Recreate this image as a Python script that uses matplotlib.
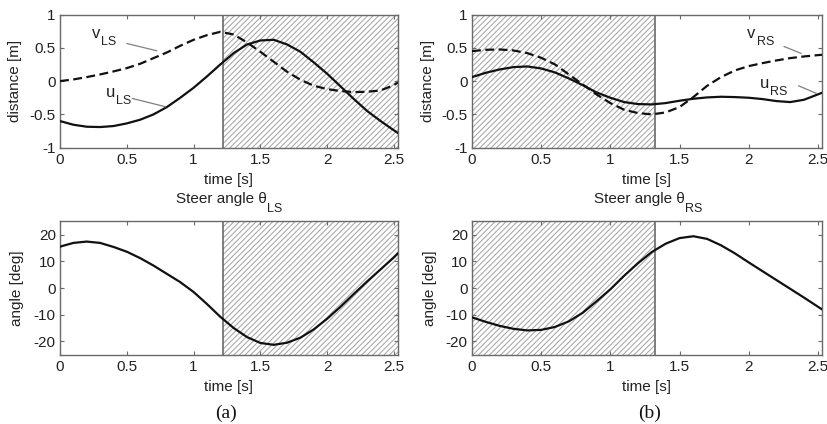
import numpy as np
import matplotlib
matplotlib.use("Agg")
import matplotlib.pyplot as plt
from matplotlib.transforms import IdentityTransform

# time samples (s)
t = [0.0, 0.1, 0.2, 0.3, 0.4, 0.5, 0.6, 0.7, 0.8, 0.9, 1.0, 1.1, 1.2,
     1.3, 1.4, 1.5, 1.6, 1.7, 1.8, 1.9, 2.0, 2.1, 2.2, 2.3, 2.4, 2.5, 2.53]

# (a) left side
v_ls = [0.0, 0.025, 0.06, 0.10, 0.145, 0.195, 0.26, 0.345, 0.43, 0.53, 0.62,
        0.69, 0.74, 0.70, 0.58, 0.44, 0.29, 0.14, 0.02, -0.07, -0.12, -0.15,
        -0.165, -0.16, -0.14, -0.06, -0.02]
u_ls = [-0.60, -0.655, -0.685, -0.69, -0.675, -0.635, -0.58, -0.50, -0.39,
        -0.25, -0.10, 0.07, 0.25, 0.42, 0.55, 0.61, 0.62, 0.55, 0.44, 0.28,
        0.11, -0.08, -0.27, -0.45, -0.60, -0.74, -0.78]
theta_ls = [15.5, 16.9, 17.4, 16.9, 15.4, 13.6, 11.2, 8.4, 5.3, 2.2, -1.5,
            -6.0, -10.8, -15.0, -18.4, -20.6, -21.3, -20.5, -18.6, -15.5,
            -11.5, -7.0, -2.2, 2.5, 7.0, 11.5, 13.0]
shade_ls = (1.22, 2.53)

# (b) right side
v_rs = [0.45, 0.47, 0.475, 0.46, 0.42, 0.35, 0.25, 0.10, -0.05, -0.20, -0.33,
        -0.43, -0.48, -0.50, -0.47, -0.39, -0.24, -0.07, 0.06, 0.16, 0.225,
        0.27, 0.31, 0.345, 0.37, 0.39, 0.395]
u_rs = [0.06, 0.125, 0.175, 0.21, 0.22, 0.19, 0.13, 0.04, -0.06, -0.17, -0.25,
        -0.315, -0.345, -0.35, -0.33, -0.295, -0.265, -0.245, -0.235, -0.24,
        -0.25, -0.27, -0.30, -0.315, -0.28, -0.20, -0.175]
theta_rs = [-11.0, -12.7, -14.2, -15.3, -15.9, -15.7, -14.6, -12.5, -9.3,
            -5.0, -0.5, 4.6, 9.3, 13.5, 16.6, 18.7, 19.4, 18.4, 16.0, 13.0,
            9.6, 6.3, 3.0, -0.3, -3.6, -7.0, -8.0]
shade_rs = (0.0, 1.32)

x_ticks = [0, 0.5, 1, 1.5, 2, 2.5]
x_ticklabels = ['0', '0.5', '1', '1.5', '2', '2.5']
d_ticks = [-1, -0.5, 0, 0.5, 1]
d_ticklabels = ['-1', '-0.5', '0', '0.5', '1']
a_ticks = [-20, -10, 0, 10, 20]
a_ticklabels = ['-20', '-10', '0', '10', '20']

plt.rcParams['font.family'] = ['Liberation Sans', 'DejaVu Sans']
plt.rcParams['hatch.linewidth'] = 0.8

W, H = 828, 424
fig = plt.figure(figsize=(W / 100, H / 100), dpi=100)
renderer = fig.canvas.get_renderer()


def px_axes(x0, x1, y0, y1):
    return fig.add_axes([x0 / W, 1 - y1 / H, (x1 - x0) / W, (y1 - y0) / H])


ax_tl = px_axes(60, 398, 14.5, 147.7)
ax_tr = px_axes(472, 822, 14.5, 147.7)
ax_bl = px_axes(60, 398, 221.3, 354.7)
ax_br = px_axes(472, 822, 221.3, 354.7)

frame = '#6a6a6a'
ink = '#111111'
txt = '#222222'


def style(ax, yt, ytl, ylim, ylabel, ylab_x):
    ax.set_xlim(0, 2.53)
    ax.set_ylim(*ylim)
    ax.set_xticks(x_ticks)
    ax.set_xticklabels(x_ticklabels)
    ax.set_yticks(yt)
    ax.set_yticklabels(ytl)
    ax.tick_params(direction='in', length=3, width=0.8, color=frame,
                   top=True, right=True, labelsize=11, labelcolor=txt)
    ax.tick_params(axis='x', pad=4)
    ax.tick_params(axis='y', pad=3)
    for s in ax.spines.values():
        s.set_color(frame)
        s.set_linewidth(1.0)
    ax.set_ylabel(ylabel, fontsize=11, color=txt)
    ax.yaxis.label.set_va('center')
    ax.yaxis.label.set_ha('center')
    ax.yaxis.set_label_coords(ylab_x, 0.5)
    ax.set_xlabel('time [s]', fontsize=11, color=txt)
    ax.xaxis.label.set_va('center')
    ax.xaxis.set_label_coords(0.5, -(180 - 147.7) / 133.2)


def shade(ax, span):
    ax.axvspan(span[0], span[1], facecolor='none', edgecolor='#ababab',
               hatch='//////', linewidth=0, zorder=1)
    for x in span:
        if 0 < x < 2.53:
            ax.axvline(x, color=frame, lw=1.2, zorder=2)


def add_sub(main, sub, size=8.5, drop=8):
    # put a lowered subscript right after a text drawn with va='baseline'
    bb = main.get_window_extent(renderer)
    bx, by = main.get_transform().transform(main.get_position())
    fig.text(bb.x1 + 1, by - drop, sub, fontsize=size, color=txt,
             ha='left', va='baseline', transform=IdentityTransform())


style(ax_tl, d_ticks, d_ticklabels, (-1, 1), 'distance [m]', -0.133)
style(ax_tr, d_ticks, d_ticklabels, (-1, 1), 'distance [m]', -0.126)
style(ax_bl, a_ticks, a_ticklabels, (-25, 25), 'angle [deg]', -0.127)
style(ax_br, a_ticks, a_ticklabels, (-25, 25), 'angle [deg]', -0.12)

shade(ax_tl, shade_ls)
shade(ax_bl, shade_ls)
shade(ax_tr, shade_rs)
shade(ax_br, shade_rs)

dash = (0, (4, 2))
ax_tl.plot(t, v_ls, color=ink, lw=1.6, linestyle=dash, zorder=3)
ax_tl.plot(t, u_ls, color=ink, lw=1.6, zorder=3)
ax_tr.plot(t, v_rs, color=ink, lw=1.6, linestyle=dash, zorder=3)
ax_tr.plot(t, u_rs, color=ink, lw=1.6, zorder=3)
ax_bl.plot(t, theta_ls, color=ink, lw=1.6, zorder=3)
ax_br.plot(t, theta_rs, color=ink, lw=1.6, zorder=3)

# curve labels with leader lines
lead = dict(arrowstyle='-', color='#808080', lw=0.9, shrinkA=0, shrinkB=0)
curve_labels = [
    (ax_tl, 0.24, 0.64, 'v', 'LS', (0.725, 0.455), (0.50, 0.565)),
    (ax_tl, 0.34, -0.235, 'u', 'LS', (0.79, -0.385), (0.54, -0.26)),
    (ax_tr, 1.99, 0.64, 'v', 'RS', (2.38, 0.415), (2.255, 0.52)),
    (ax_tr, 2.08, -0.10, 'u', 'RS', (2.49, -0.185), (2.36, -0.07)),
]
for ax, x, y, m, s, end, start in curve_labels:
    tm = ax.text(x, y, m, fontsize=12, color=txt, va='baseline')
    add_sub(tm, s, size=9, drop=7)
    ax.annotate('', xy=end, xytext=start, arrowprops=lead)

for cx, s in [(229, 'LS'), (647, 'RS')]:
    tm = fig.text((cx - 8) / W, 1 - 203 / H, 'Steer angle θ', fontsize=11,
                  color=txt, ha='center', va='baseline')
    add_sub(tm, s, size=9, drop=9)

fig.text(226 / W, 1 - 413 / H, '(a)', fontsize=14, family='Liberation Serif',
         color=ink, ha='center', va='center')
fig.text(650 / W, 1 - 413 / H, '(b)', fontsize=14, family='Liberation Serif',
         color=ink, ha='center', va='center')

fig.savefig('out.png', dpi=100)
